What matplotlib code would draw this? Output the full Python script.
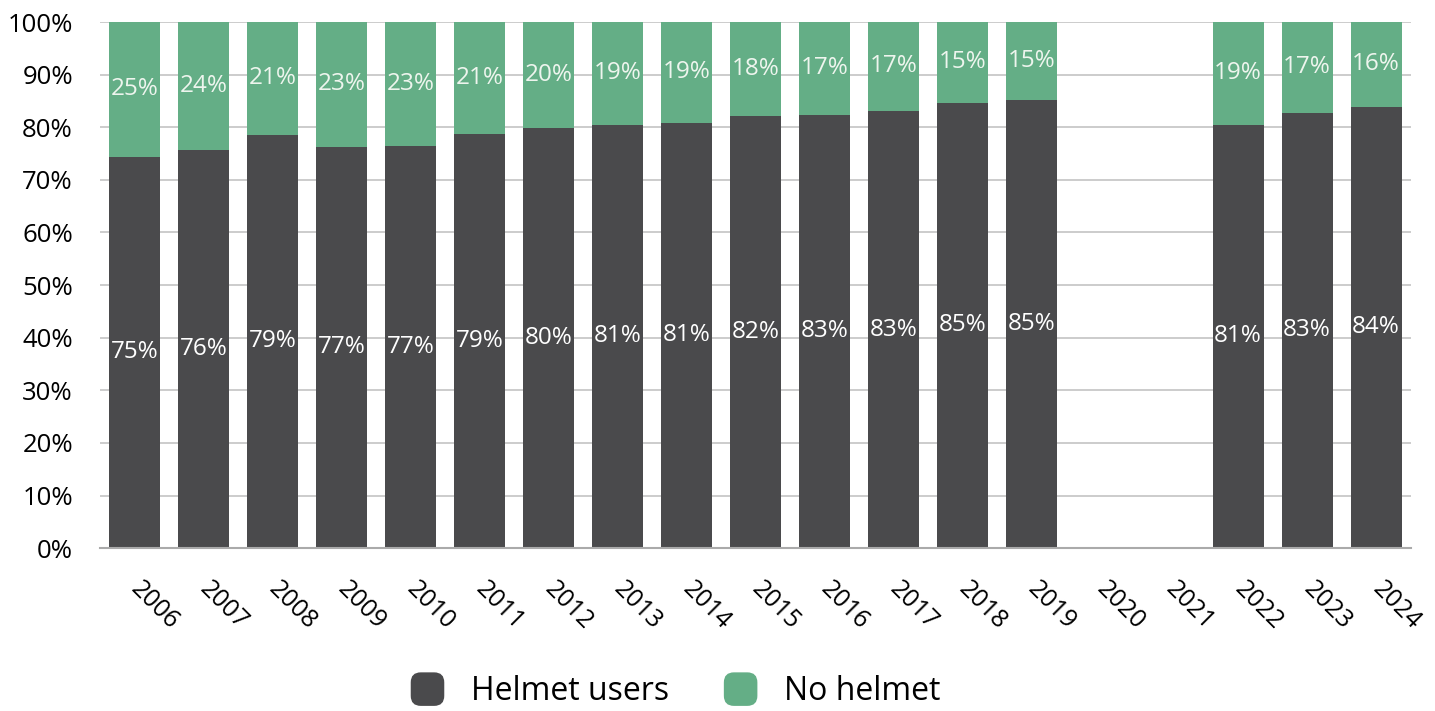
import matplotlib
matplotlib.use("Agg")
import matplotlib.pyplot as plt
from matplotlib.patches import FancyBboxPatch
from matplotlib.legend_handler import HandlerPatch
import numpy as np

plt.rcParams['font.family'] = ['Open Sans', 'DejaVu Sans']

# data
years = ["2006", "2007", "2008", "2009", "2010", "2011", "2012", "2013", "2014", "2015",
         "2016", "2017", "2018", "2019", "2020", "2021", "2022", "2023", "2024"]
helmet = [74.4, 75.7, 78.6, 76.3, 76.5, 78.8, 79.8, 80.5, 80.9, 82.1,
          82.4, 83.1, 84.7, 85.2, np.nan, np.nan, 80.5, 82.8, 83.9]
helmet_lbl = ["75%", "76%", "79%", "77%", "77%", "79%", "80%", "81%", "81%", "82%",
              "83%", "83%", "85%", "85%", "", "", "81%", "83%", "84%"]
nohelmet_lbl = ["25%", "24%", "21%", "23%", "23%", "21%", "20%", "19%", "19%", "18%",
                "17%", "17%", "15%", "15%", "", "", "19%", "17%", "16%"]

dark = "#4a4a4c"
green = "#64ae86"

helmet = np.array(helmet)
nohelmet = 100 - helmet
x = np.arange(len(years))

fig = plt.figure(figsize=(14.35, 7.11), dpi=100)
ax = fig.add_axes([0.0697, 0.229, 0.9133, 0.740])

ax.bar(x, helmet, width=0.74, color=dark, zorder=2)
ax.bar(x, nohelmet, width=0.74, bottom=helmet, color=green, zorder=2)

for i in range(len(years)):
    if np.isnan(helmet[i]):
        continue
    ax.text(x[i], helmet[i] / 2, helmet_lbl[i], ha="center", va="center",
            color="white", fontsize=17.5, zorder=3)
    ax.text(x[i], helmet[i] + nohelmet[i] / 2, nohelmet_lbl[i], ha="center", va="center",
            color="#eef5ee", fontsize=17.5, zorder=3)

ax.set_xlim(-0.5, len(years) - 0.5)
ax.set_ylim(0, 100)
ax.set_yticks(np.arange(0, 101, 10))
ax.set_yticklabels([f"{v}%" for v in range(0, 101, 10)], fontsize=18.5)
ax.yaxis.grid(True, color="#c4c4c4", linewidth=1.2, zorder=0)
ax.set_axisbelow(True)
ax.tick_params(axis="y", length=0, pad=19.5)
ax.tick_params(axis="x", length=0, pad=27)
ax.set_xticks(x)
ax.set_xticklabels(years, rotation=-45, ha="left", va="center",
                   rotation_mode="anchor", fontsize=18)
for s in ["left", "right", "top"]:
    ax.spines[s].set_visible(False)
ax.spines["bottom"].set_color("#aaaaaa")
ax.spines["bottom"].set_linewidth(1.5)


class RoundHandler(HandlerPatch):
    def create_artists(self, legend, orig_handle, xdescent, ydescent, width, height, fontsize, trans):
        s = height * 1.5
        p = FancyBboxPatch((width / 2 - s / 2 - xdescent, height / 2 - s / 2 - ydescent), s, s,
                           boxstyle="round,pad=0,rounding_size=%f" % (s * 0.3),
                           facecolor=orig_handle.get_facecolor(), edgecolor="none",
                           transform=trans)
        return [p]


h1 = FancyBboxPatch((0, 0), 1, 1, facecolor=dark)
h2 = FancyBboxPatch((0, 0), 1, 1, facecolor=green)
fig.legend([h1, h2], ["Helmet users", "No helmet"], loc="center",
           bbox_to_anchor=(0.4704, 0.027), ncol=2, frameon=False, fontsize=23,
           handler_map={FancyBboxPatch: RoundHandler()}, handlelength=1.1,
           handletextpad=0.8, columnspacing=1.7)

fig.savefig("out.png", dpi=100)
